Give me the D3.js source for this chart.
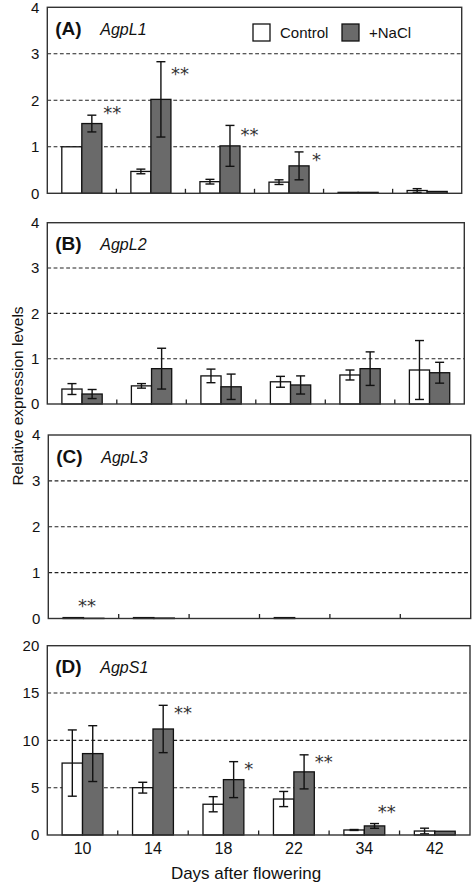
<!DOCTYPE html>
<html><head><meta charset="utf-8">
<script src="https://cdn.jsdelivr.net/npm/d3@7"></script>
<style>
html,body{margin:0;padding:0;background:#fff;}
svg{display:block;font-family:"Liberation Sans",Arial,sans-serif;}
</style></head>
<body>
<svg id="chart" width="472" height="883"></svg>
<script>
// ---------- data ----------
const days = ["10", "14", "18", "22", "34", "42"];
const seriesNames = ["Control", "+NaCl"];

const agpL1Control    = [1.00, 0.47, 0.25, 0.24, 0.02, 0.06];
const agpL1ControlErr = [0.00, 0.05, 0.05, 0.05, 0.00, 0.04];
const agpL1NaCl       = [1.50, 2.02, 1.02, 0.59, 0.02, 0.04];
const agpL1NaClErr    = [0.18, 0.81, 0.44, 0.30, 0.00, 0.00];

const agpL2Control    = [0.33, 0.40, 0.62, 0.49, 0.64, 0.75];
const agpL2ControlErr = [0.12, 0.05, 0.15, 0.12, 0.11, 0.65];
const agpL2NaCl       = [0.22, 0.78, 0.38, 0.42, 0.78, 0.69];
const agpL2NaClErr    = [0.10, 0.45, 0.28, 0.20, 0.37, 0.23];

const agpL3Control    = [0.02, 0.02, 0.00, 0.02, 0.00, 0.00];
const agpL3ControlErr = [0, 0, 0, 0, 0, 0];
const agpL3NaCl       = [0.005, 0.01, 0.00, 0.00, 0.00, 0.00];
const agpL3NaClErr    = [0, 0, 0, 0, 0, 0];

const agpS1Control    = [7.60, 5.00, 3.25, 3.80, 0.53, 0.42];
const agpS1ControlErr = [3.50, 0.57, 0.80, 0.80, 0.05, 0.30];
const agpS1NaCl       = [8.60, 11.20, 5.85, 6.67, 0.96, 0.40];
const agpS1NaClErr    = [2.95, 2.50, 1.90, 1.80, 0.25, 0.00];

const ticksSmall = [0, 1, 2, 3, 4];
const ticksLarge = [0, 5, 10, 15, 20];

const panelLetters = ["(A)", "(B)", "(C)", "(D)"];
const geneNames = ["AgpL1", "AgpL2", "AgpL3", "AgpS1"];

// significance marks: panel index, day, label, level (data units, centre of mark)
const sigPanel = [0, 0, 0, 0, 2, 3, 3, 3, 3];
const sigDay   = ["10", "14", "18", "22", "10", "14", "18", "22", "34"];
const sigLabel = ["**", "**", "**", "*", "**", "**", "*", "**", "**"];
const sigLevel = [1.79, 2.63, 1.32, 0.79, 0.34, 13.2, 7.27, 7.98, 2.73];

const yTitle = "Relative expression levels";
const xTitle = "Days after flowering";

// ---------- layout ----------
const frames = [
  {l: 47.3, r: 461.7, t: 7.3,   b: 193.3},
  {l: 47.3, r: 464.3, t: 222.7, b: 404.0},
  {l: 48.3, r: 470.7, t: 435.0, b: 618.5},
  {l: 47.3, r: 470.0, t: 645.7, b: 835.0}
];
const sigDx = [1.5, 0, 0.5, 3, -26, 0.5, 0.5, 0.5, -7];

const panels = [
  {ticks: ticksSmall, c: agpL1Control, ce: agpL1ControlErr, n: agpL1NaCl, ne: agpL1NaClErr},
  {ticks: ticksSmall, c: agpL2Control, ce: agpL2ControlErr, n: agpL2NaCl, ne: agpL2NaClErr},
  {ticks: ticksSmall, c: agpL3Control, ce: agpL3ControlErr, n: agpL3NaCl, ne: agpL3NaClErr},
  {ticks: ticksLarge, c: agpS1Control, ce: agpS1ControlErr, n: agpS1NaCl, ne: agpS1NaClErr}
];

const fills = {"Control": "#ffffff", "+NaCl": "#6a6a6a"};
const svg = d3.select("#chart");

panels.forEach((p, pi) => {
  const f = frames[pi];
  const g = svg.append("g");
  const x = d3.scaleBand().domain(days).range([f.l, f.r]).padding(0);
  const bw = x.bandwidth();
  const xs = d3.scaleBand().domain(seriesNames).range([bw * 0.21, bw * 0.79]).padding(0);
  const y = d3.scaleLinear().domain([0, d3.max(p.ticks)]).range([f.b, f.t]);

  // gridlines
  g.selectAll("line.grid").data(p.ticks.slice(1, -1)).join("line")
    .attr("x1", f.l).attr("x2", f.r)
    .attr("y1", d => y(d)).attr("y2", d => y(d))
    .attr("stroke", "#222").attr("stroke-width", 1.1)
    .attr("stroke-dasharray", "3.8,2.5");

  // y axis labels
  const yAxis = d3.axisLeft(y).tickValues(p.ticks).tickFormat(d3.format("d"))
    .tickSize(0).tickPadding(8);
  const ya = g.append("g").attr("transform", `translate(${f.l},0)`).call(yAxis);
  ya.select(".domain").remove();
  ya.selectAll("text").attr("font-size", 15).attr("fill", "#111")
    .attr("font-family", "Liberation Sans, Arial, sans-serif");

  // bars
  const rows = days.map((d, i) => [
    {day: d, s: "Control", v: p.c[i], e: p.ce[i]},
    {day: d, s: "+NaCl", v: p.n[i], e: p.ne[i]}
  ]).flat();

  g.selectAll("rect.bar").data(rows).join("rect")
    .attr("x", d => x(d.day) + xs(d.s))
    .attr("width", xs.bandwidth())
    .attr("y", d => y(d.v))
    .attr("height", d => y(0) - y(d.v))
    .attr("fill", d => fills[d.s])
    .attr("stroke", "#111").attr("stroke-width", 1.3);

  // error bars
  const eb = rows.filter(d => d.e > 0);
  const cx = d => x(d.day) + xs(d.s) + xs.bandwidth() / 2;
  const cap = 4.5;
  g.selectAll("line.ev").data(eb).join("line")
    .attr("x1", cx).attr("x2", cx)
    .attr("y1", d => y(Math.max(0, d.v - d.e))).attr("y2", d => y(d.v + d.e))
    .attr("stroke", "#111").attr("stroke-width", 1.4);
  g.selectAll("line.et").data(eb).join("line")
    .attr("x1", d => cx(d) - cap).attr("x2", d => cx(d) + cap)
    .attr("y1", d => y(d.v + d.e)).attr("y2", d => y(d.v + d.e))
    .attr("stroke", "#111").attr("stroke-width", 1.4);
  g.selectAll("line.eb").data(eb.filter(d => d.v - d.e > 0)).join("line")
    .attr("x1", d => cx(d) - cap).attr("x2", d => cx(d) + cap)
    .attr("y1", d => y(d.v - d.e)).attr("y2", d => y(d.v - d.e))
    .attr("stroke", "#111").attr("stroke-width", 1.4);

  // category separator ticks on bottom axis
  g.selectAll("line.sep").data(days.slice(1)).join("line")
    .attr("x1", d => x(d)).attr("x2", d => x(d))
    .attr("y1", f.b).attr("y2", f.b - 4.5)
    .attr("stroke", "#222").attr("stroke-width", 1.3);

  // frame
  g.append("rect").attr("x", f.l).attr("y", f.t)
    .attr("width", f.r - f.l).attr("height", f.b - f.t)
    .attr("fill", "none").attr("stroke", "#333").attr("stroke-width", 1.4);

  // panel title
  g.append("text").attr("x", f.l + 8).attr("y", f.t + 27.5)
    .attr("font-size", 19).attr("font-weight", "bold").attr("fill", "#111")
    .text(panelLetters[pi]);
  g.append("text").attr("x", f.l + 53).attr("y", f.t + 27.5)
    .attr("font-size", 16).attr("font-style", "italic").attr("fill", "#111")
    .text(geneNames[pi]);

  // significance marks
  sigPanel.forEach((sp, k) => {
    if (sp !== pi) return;
    const right = x(sigDay[k]) + xs("+NaCl") + xs.bandwidth();
    g.append("text")
      .attr("x", right + sigDx[k])
      .attr("y", y(sigLevel[k]) + 9)
      .attr("font-family", "DejaVu Sans, sans-serif")
      .attr("font-size", 18).attr("fill", "#333")
      .text(sigLabel[k]);
  });

  // x tick labels (bottom panel only)
  if (pi === panels.length - 1) {
    const xAxis = d3.axisBottom(x).tickSize(0).tickPadding(8);
    const xa = g.append("g").attr("transform", `translate(0,${f.b})`).call(xAxis);
    xa.select(".domain").remove();
    xa.selectAll("text").attr("font-size", 16).attr("fill", "#111")
      .attr("font-family", "Liberation Sans, Arial, sans-serif");
  }
});

// legend (panel A)
const lg = svg.append("g");
const legX = [253, 342];
seriesNames.forEach((s, i) => {
  lg.append("rect").attr("x", legX[i]).attr("y", 24).attr("width", 17).attr("height", 17)
    .attr("fill", fills[s]).attr("stroke", "#111").attr("stroke-width", 1.3);
  lg.append("text").attr("x", legX[i] + 27).attr("y", 38)
    .attr("font-size", 15).attr("fill", "#111").text(s);
});

// axis titles
svg.append("text").attr("transform", "translate(23,396) rotate(-90)")
  .attr("text-anchor", "middle").attr("font-size", 15.5).attr("fill", "#111")
  .text(yTitle);
svg.append("text").attr("x", 246).attr("y", 879)
  .attr("text-anchor", "middle").attr("font-size", 17).attr("fill", "#111")
  .text(xTitle);
</script>
</body></html>
